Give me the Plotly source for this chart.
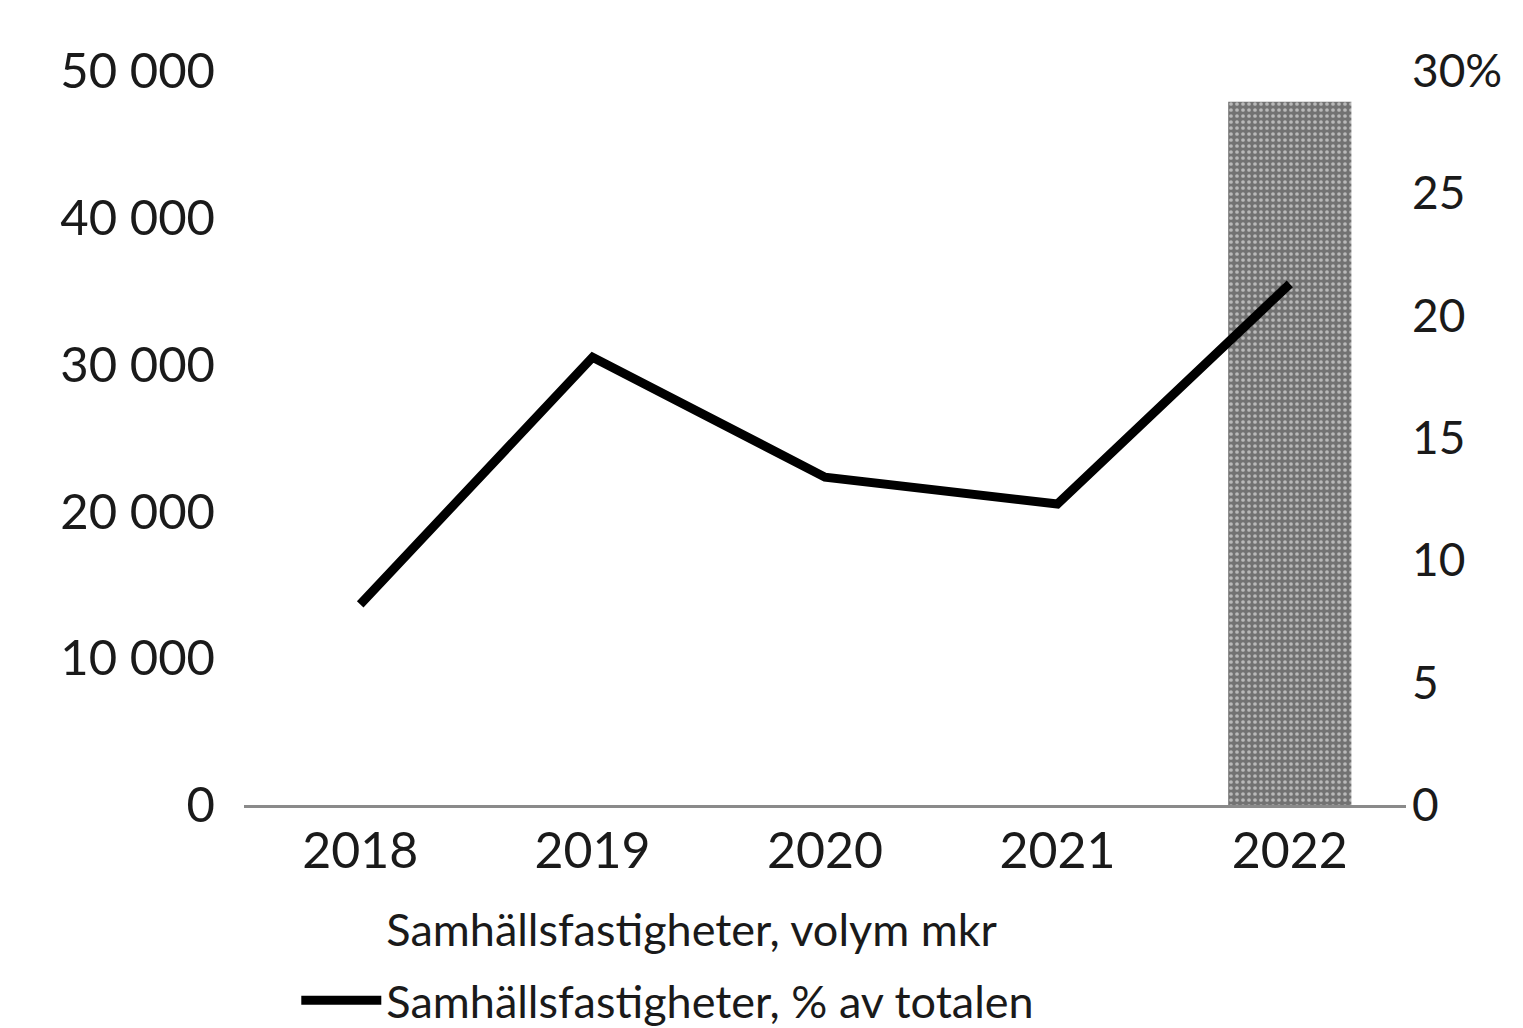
import plotly.graph_objects as go

years = ["2018", "2019", "2020", "2021", "2022"]
volym_mkr = [None, None, None, None, 47900]
andel_pct = [8.2, 18.3, 13.4, 12.3, 21.3]
left_ticks = [0, 10000, 20000, 30000, 40000, 50000]
right_ticks = [0, 5, 10, 15, 20, 25, 30]
right_labels = ["0", "5", "10", "15", "20", "25", "30%"]

FONT = "Lato"

fig = go.Figure()
fig.add_trace(go.Bar(
    x=years, y=volym_mkr, name="Samhällsfastigheter, volym mkr",
    legendgroup="a",
    marker=dict(color=["white", "white", "white", "white", "#727272"],
                line=dict(width=0),
                pattern=dict(shape=".", fgcolor=["white", "white", "white", "white", "#3a3a3a"],
                             size=6, solidity=0.3)),
    width=0.53, yaxis="y",
))
fig.add_trace(go.Scatter(
    x=years, y=andel_pct, name="Samhällsfastigheter, % av totalen",
    legendgroup="b",
    mode="lines", line=dict(color="black", width=9), yaxis="y2",
))

fig.update_layout(
    width=1523, height=1028,
    margin=dict(l=236, r=125, t=63, b=231),
    paper_bgcolor="white", plot_bgcolor="white",
    font=dict(family=FONT, color="#1a1a1a"),
    separators=", ",
    showlegend=True,
    legend=dict(orientation="v", x=0.045, xanchor="left",
                yref="container", y=0.0, yanchor="bottom",
                font=dict(size=45, family=FONT), itemwidth=80, tracegroupgap=10,
                bgcolor="rgba(0,0,0,0)"),
    xaxis=dict(showgrid=False, showline=True, linecolor="#8a8a8a", linewidth=3,
               ticks="", tickfont=dict(size=50, family=FONT)),
    yaxis=dict(range=[0, 50000], tickvals=left_ticks, tickformat=",d",
               showgrid=False, zeroline=False, showline=False,
               tickfont=dict(size=49, family=FONT), ticks="", ticklabelstandoff=28),
    yaxis2=dict(range=[0, 30], overlaying="y", side="right",
                tickvals=right_ticks, ticktext=right_labels,
                showgrid=False, zeroline=False, showline=False,
                tickfont=dict(size=46, family=FONT), ticks="", ticklabelstandoff=5),
    bargap=0.47,
)

fig.write_html("out.html")
